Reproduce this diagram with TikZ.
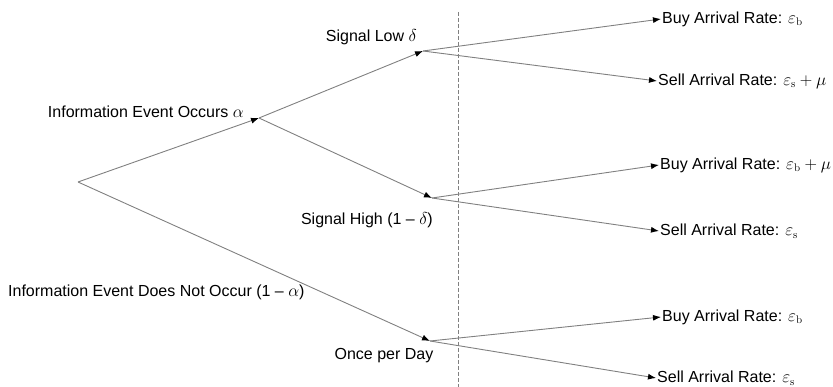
\documentclass[tikz,border=0pt]{standalone}
\usepackage[no-math]{fontspec}
\setmainfont{Liberation Sans}
\usetikzlibrary{arrows.meta}

\begin{document}
\begin{tikzpicture}[x=1pt, y=-1pt, font=\fontsize{16}{19}\selectfont,
    branch/.style={draw=gray, line width=0.9pt, -{Latex[black, length=8pt, width=6pt]}},
    lbl/.style={inner sep=1pt}]
  \useasboundingbox (0,0) rectangle (833,387);

  % decision points
  \coordinate (root) at (78,182);
  \coordinate (occurs) at (259,118);
  \coordinate (low) at (423,51);
  \coordinate (high) at (432,198);
  \coordinate (once) at (430,341);

  % branch labels
  \node[lbl, anchor=east] (occurslbl) at (245,112) {Information Event Occurs $\alpha$};
  \node[lbl, anchor=east] (lowlbl) at (418,37) {Signal Low $\delta$};
  \node[lbl, anchor=east] (highlbl) at (434,220) {Signal High (1 \textendash\ $\delta$)};
  \node[lbl, anchor=west] (notlbl) at (7,292) {Information Event Does Not Occur (1 \textendash\ $\alpha$)};
  \node[lbl] (oncelbl) at (384,356) {Once per Day};

  % arrival rates
  \node[lbl, anchor=west] (buylow) at (661,19) {Buy Arrival Rate: $\varepsilon_{\mathrm{b}}$};
  \node[lbl, anchor=west] (selllow) at (657,81) {Sell Arrival Rate: $\varepsilon_{\mathrm{s}}+\mu$};
  \node[lbl, anchor=west] (buyhigh) at (659,165) {Buy Arrival Rate: $\varepsilon_{\mathrm{b}}+\mu$};
  \node[lbl, anchor=west] (sellhigh) at (659,231) {Sell Arrival Rate: $\varepsilon_{\mathrm{s}}$};
  \node[lbl, anchor=west] (buyonce) at (661,317) {Buy Arrival Rate: $\varepsilon_{\mathrm{b}}$};
  \node[lbl, anchor=west] (sellonce) at (656,378) {Sell Arrival Rate: $\varepsilon_{\mathrm{s}}$};

  % end of day
  \draw[gray, dashed, dash pattern=on 4pt off 2pt, line width=0.7pt] (458,12) coordinate (daytop) -- (458,387) coordinate (daybot);

  \draw[branch] (root) -- (occurs);
  \draw[branch] (root) -- (once);
  \draw[branch] (occurs) -- (low);
  \draw[branch] (occurs) -- (high);

  \draw[branch] (low) -- (buylow.west);
  \draw[branch] (low) -- (selllow.west);
  \draw[branch] (high) -- (buyhigh.west);
  \draw[branch] (high) -- (sellhigh.west);
  \draw[branch] (once) -- (buyonce.west);
  \draw[branch] (once) -- (sellonce.west);
\end{tikzpicture}
\end{document}
